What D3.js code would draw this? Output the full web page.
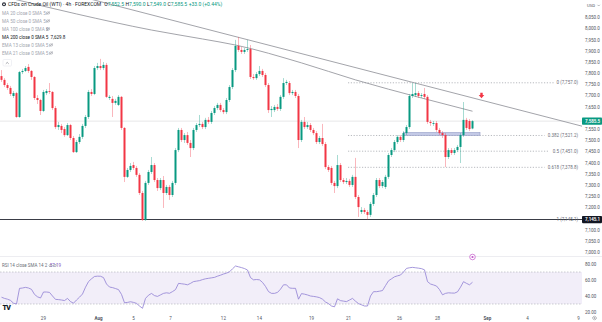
<!DOCTYPE html>
<html><head><meta charset="utf-8">
<script src="https://cdn.jsdelivr.net/npm/d3@7"></script>
<style>body{margin:0;background:#fff}svg{display:block;font-family:Roboto,"Noto Sans",sans-serif}</style>
</head><body><svg id="c" width="602" height="322"></svg>
<script>
// ---- data (4h candles, CFDs on Crude Oil WTI) ----
const opens=[7787,7770,7747,7734,7698,7711,7604,7805,7810,7828,7810,7783,7689,7680,7631,7711,7720,7716,7644,7559,
7564,7550,7523,7568,7510,7447,7492,7515,7564,7604,7716,7707,7823,7832,7823,7837,7689,7685,7667,7658,
7694,7555,7336,7367,7389,7376,7345,7264,7143,7309,7358,7389,7322,7286,7322,7264,7291,7255,7309,7456,
7546,7501,7523,7488,7465,7546,7568,7573,7559,7591,7582,7622,7644,7658,7635,7626,7680,7738,7814,7922,
7904,7895,7904,7908,7783,7778,7796,7810,7792,7747,7635,7635,7649,7640,7694,7756,7756,7711,7716,7698,
7501,7582,7559,7568,7546,7532,7492,7510,7483,7380,7376,7309,7295,7389,7322,7313,7318,7300,7336,7246,
7179,7188,7179,7166,7215,7255,7322,7295,7291,7336,7434,7456,7492,7515,7501,7532,7559,7698,7702,7711,
7698,7707,7694,7582,7573,7577,7546,7532,7523,7425,7456,7443,7456,7470,7523,7591,7586,7552.5];
const highs=[7814,7778,7756,7743,7720,7716,7810,7819,7832,7841,7814,7787,7702,7685,7725,7729,7756,7720,7653,7582,
7573,7559,7577,7573,7519,7501,7528,7573,7613,7725,7729,7832,7846,7864,7850,7846,7702,7698,7685,7702,
7698,7559,7376,7398,7403,7385,7353,7273,7318,7367,7425,7398,7331,7331,7340,7300,7300,7318,7465,7555,
7555,7532,7537,7501,7555,7577,7613,7582,7600,7604,7631,7653,7667,7667,7644,7689,7747,7823,7949,7962,
7917,7913,7949,7926,7796,7805,7832,7819,7801,7756,7653,7658,7662,7702,7778,7770,7765,7725,7725,7707,
7591,7604,7582,7577,7555,7541,7519,7573,7492,7389,7385,7318,7434,7398,7331,7331,7327,7345,7421,7255,
7201,7197,7188,7224,7264,7331,7331,7322,7345,7443,7465,7501,7523,7523,7541,7568,7707,7756,7756,7720,
7711,7734,7702,7591,7586,7586,7555,7541,7532,7465,7465,7465,7479,7532,7671,7600,7595,7590.0];
const lows=[7761,7738,7725,7698,7689,7600,7600,7796,7805,7801,7770,7680,7662,7613,7626,7702,7707,7635,7550,7546,
7532,7515,7519,7501,7443,7443,7483,7506,7555,7595,7698,7702,7814,7814,7814,7689,7680,7604,7658,7653,
7546,7313,7331,7358,7367,7336,7255,7139,7139,7300,7349,7313,7273,7277,7197,7255,7233,7246,7300,7447,
7492,7488,7479,7425,7456,7537,7559,7550,7550,7573,7573,7613,7635,7626,7617,7617,7671,7729,7805,7895,
7886,7886,7895,7774,7770,7770,7787,7783,7738,7622,7604,7626,7631,7631,7685,7747,7702,7702,7689,7465,
7492,7550,7550,7537,7523,7483,7483,7474,7371,7358,7300,7264,7286,7313,7304,7304,7291,7291,7237,7157,
7170,7170,7145.1,7157,7206,7246,7286,7286,7282,7327,7425,7447,7483,7492,7492,7523,7550,7689,7694,7689,
7689,7685,7573,7564,7564,7537,7523,7510,7380,7416,7434,7434,7447,7398,7515,7546,7541,7549.0];
const closes=[7770,7747,7734,7707,7711,7604,7805,7810,7823,7810,7783,7689,7680,7631,7716,7720,7716,7644,7559,7568,
7546,7523,7568,7510,7447,7492,7515,7564,7604,7716,7707,7823,7832,7823,7837,7694,7694,7667,7676,7694,
7555,7336,7367,7385,7376,7345,7264,7143,7309,7358,7389,7322,7286,7322,7264,7291,7255,7309,7456,7546,
7501,7523,7488,7465,7546,7568,7573,7559,7591,7582,7622,7644,7658,7635,7626,7680,7738,7814,7922,7904,
7895,7904,7908,7783,7778,7796,7810,7792,7747,7635,7640,7649,7640,7694,7756,7761,7711,7716,7698,7501,
7582,7559,7568,7546,7532,7492,7510,7483,7380,7367,7309,7295,7389,7322,7313,7318,7300,7336,7246,7201,
7188,7179,7166,7215,7255,7322,7295,7313,7336,7434,7456,7492,7515,7501,7532,7559,7698,7707,7711,7698,
7702,7694,7582,7577,7577,7546,7532,7523,7425,7456,7443,7456,7470,7523,7591,7555,7550,7585.5];
const rsiValues=[38.5,37,36,34.5,31,30,49.5,50,50.8,50,48.3,42,39,37.5,45,45,44.5,40,35.8,35.5,
35,34.3,37,33,31,35,38.5,42.5,51,58,61.5,64.4,64.8,64.7,63,55,51.2,50.5,49.3,48,
42,31.5,32,32.8,32,30.8,27.5,24.6,37,41,43.2,40.5,39.5,41.4,43.3,44,43.4,45.5,48,55.8,
55.3,54.8,54,55.8,58,58.6,59.2,60.5,61.5,62.1,62.7,63.3,64.8,66,67.5,68.6,70.2,74,77.5,76.5,
75.5,74.3,72.5,63,60.2,60.6,60.2,57,52,45.5,43.3,43.3,44.5,48.5,54,54,50,49.6,49.6,36,
43,42.3,41.3,40,39.5,38.9,38,36,32.5,30.5,27.5,26.5,36.5,34.2,33.6,33,35,37,33.5,30.5,
29,27.5,27.5,40,45.4,45.4,46,46.8,53,59,61.5,64,65.2,66.2,70,74.5,75.3,75.8,75.3,74.8,
74.2,72.7,58,55,53.8,52.5,48,41.5,43.3,44,43.7,43.6,45.2,51,57.9,55.8,54,57.19];
const maIdx=[0,25,50,67,78,100,118,140,157];
const maVal=[8145,8065,7993,7953,7926,7846,7770,7689,7629.8];
const trendIdx=[78.5,137];
const trendVal=[7962,7759];
const fibNames=["0","0.382","0.5","0.618","1"];
const fibPrices=[7757.0,7521.2,7451.0,7378.8,7145.1];
const fibStartIdx=115.5;
const zoneIdx=[134,159.5];
const zonePrices=[7534,7522];
const arrowIdx=160, arrowPrice=7694;
const priceTicks=[8050,8000,7950,7900,7850,7800,7750,7700,7650,7550,7500,7450,7400,7350,7300,7250,7200,7100,7050,7000];
const rsiTicks=[80,60,40,20];
const timeLabels=["29","Aug","5","7","12","14","19","21","26","28","Sep","4","9"];
const timeIdx=[13.8,32.2,43.8,56.2,73.8,85.8,103.2,115.5,132.5,145.2,161.8,175.2,192.2];
const lastPrice=7585.5, lowLine=7145.1;

// ---- drawing ----
const svg=d3.select("#c");
const paneR=582, paneB=256;
const UP="#089981", DN="#f23645";
const x=d3.scaleLinear().domain([0,157]).range([1.5,472.5]);
const y=d3.scaleLinear().domain([7000,8050]).range([252,17.3]);
const yr=d3.scaleLinear().domain([20,80]).range([312,264]);

svg.append("rect").attr("width",602).attr("height",322).attr("fill","#fff");
const defs=svg.append("defs");
defs.append("clipPath").attr("id","pc").append("rect").attr("x",0).attr("y",0).attr("width",paneR).attr("height",paneB);
defs.append("clipPath").attr("id","rc").append("rect").attr("x",0).attr("y",paneB).attr("width",paneR).attr("height",313-paneB);

// separators
svg.append("line").attr("x1",0).attr("x2",602).attr("y1",paneB+0.5).attr("y2",paneB+0.5).attr("stroke","#e8e9ee").attr("stroke-width",0.8);

const pane=svg.append("g").attr("clip-path","url(#pc)");
// current price line
pane.append("line").attr("x1",0).attr("x2",paneR).attr("y1",y(lastPrice)).attr("y2",y(lastPrice)).attr("stroke","#d6d6d8").attr("stroke-width",0.6);

// fib levels
fibPrices.forEach((p,k)=>{
  if(k<4) pane.append("line").attr("x1",x(fibStartIdx)).attr("x2",paneR-26-(fibNames[k].length*2.3)).attr("y1",y(p)).attr("y2",y(p))
    .attr("stroke","#8a8d96").attr("stroke-width",0.6).attr("stroke-dasharray","1.2,1.6");
});
// low horizontal line
pane.append("line").attr("x1",0).attr("x2",paneR).attr("y1",y(lowLine)).attr("y2",y(lowLine)).attr("stroke","#3a3d46").attr("stroke-width",1.1);

// zone
pane.append("rect").attr("x",x(zoneIdx[0])).attr("width",x(zoneIdx[1])-x(zoneIdx[0]))
  .attr("y",y(zonePrices[0])).attr("height",y(zonePrices[1])-y(zonePrices[0]))
  .attr("fill","#c3c9e6").attr("stroke","#8f98c4").attr("stroke-width",0.6);

// MA 200
pane.append("path").datum(maIdx.map((d,i)=>[d,maVal[i]]))
  .attr("d",d3.line().x(d=>x(d[0])).y(d=>y(d[1])).curve(d3.curveMonotoneX))
  .attr("fill","none").attr("stroke","#8b8d94").attr("stroke-width",0.8);
// trendline extended
const slope=(trendVal[1]-trendVal[0])/(trendIdx[1]-trendIdx[0]);
const i0=x.invert(0), i1=x.invert(paneR);
pane.append("line").attr("x1",0).attr("x2",paneR)
  .attr("y1",y(trendVal[0]+slope*(i0-trendIdx[0]))).attr("y2",y(trendVal[0]+slope*(i1-trendIdx[0])))
  .attr("stroke","#8b8d94").attr("stroke-width",0.8);

// candles
const idx=d3.range(closes.length);
const cg=pane.append("g");
cg.selectAll("line.w").data(idx).join("line").attr("class","w")
  .attr("x1",i=>x(i)).attr("x2",i=>x(i)).attr("y1",i=>y(highs[i])).attr("y2",i=>y(lows[i]))
  .attr("stroke",i=>closes[i]>=opens[i]?UP:DN).attr("stroke-width",0.6).attr("stroke-opacity",0.6);
cg.selectAll("rect.b").data(idx).join("rect").attr("class","b")
  .attr("x",i=>x(i)-1).attr("width",2)
  .attr("y",i=>y(Math.max(opens[i],closes[i])))
  .attr("height",i=>Math.max(0.7,Math.abs(y(opens[i])-y(closes[i]))))
  .attr("fill",i=>closes[i]>=opens[i]?UP:DN);

// arrow
const ax=x(arrowIdx), ay=y(arrowPrice);
pane.append("path").attr("d",`M${ax-1.2},${ay-4}h2.4v2.2h1.6l-2.8,3.2l-2.8,-3.2h1.6z`).attr("fill",DN);

// fib labels
fibPrices.forEach((p,k)=>{
  svg.append("text").attr("x",paneR-4).attr("y",y(p)).attr("dy","0.35em").attr("text-anchor","end")
    .attr("font-size",4.5).attr("fill","#6b6e78").text(`${fibNames[k]} (${d3.format(",.1f")(p)})`);
});

// price axis
const pa=svg.append("g").attr("transform",`translate(${paneR},0)`)
  .call(d3.axisRight(y).tickValues(priceTicks).tickFormat(d3.format(",.1f")).tickSize(0).tickPadding(3));
pa.select(".domain").remove();
pa.selectAll("text").attr("font-size",4.5).attr("fill","#50535e").attr("font-family","Roboto");
// tags
function tag(p,bg){
  const g=svg.append("g");
  g.append("rect").attr("x",paneR).attr("y",y(p)-3.6).attr("width",20).attr("height",7.2).attr("rx",0.8).attr("fill",bg);
  g.append("text").attr("x",paneR+3).attr("y",y(p)).attr("dy","0.35em").attr("font-size",4.5).attr("fill","#fff").attr("font-weight",600).text(d3.format(",.1f")(p));
}
tag(lastPrice,UP); tag(lowLine,"#131722");
svg.append("text").attr("x",587).attr("y",6.5).attr("font-size",4.3).attr("fill","#50535e").text("USD");
svg.append("path").attr("d","M597.5,4.8l1.2,1.2l1.2,-1.2").attr("fill","none").attr("stroke","#50535e").attr("stroke-width",0.4);

// RSI pane
const rp=svg.append("g").attr("clip-path","url(#rc)");
rp.append("rect").attr("x",0).attr("width",paneR).attr("y",yr(70)).attr("height",yr(30)-yr(70)).attr("fill","#7e57c2").attr("fill-opacity",0.1);
[70,30].forEach(v=>rp.append("line").attr("x1",0).attr("x2",paneR).attr("y1",yr(v)).attr("y2",yr(v))
  .attr("stroke","#9a9ca5").attr("stroke-width",0.5).attr("stroke-dasharray","1.5,1.5"));
rp.append("path").datum(rsiValues).attr("d",d3.line().x((d,i)=>x(i)).y(d=>yr(d)))
  .attr("fill","none").attr("stroke","#8f7fd3").attr("stroke-width",0.8);
const ra=svg.append("g").attr("transform",`translate(${paneR},0)`)
  .call(d3.axisRight(yr).tickValues(rsiTicks).tickFormat(d3.format(".2f")).tickSize(0).tickPadding(3));
ra.select(".domain").remove();
ra.selectAll("text").attr("font-size",4.5).attr("fill","#50535e").attr("font-family","Roboto");

// event marker
svg.append("circle").attr("cx",x(157)).attr("cy",257).attr("r",2.8).attr("fill","#fff").attr("stroke","#c155c9").attr("stroke-width",0.7);
svg.append("circle").attr("cx",x(157)).attr("cy",257).attr("r",1.1).attr("fill","#c155c9");

// time axis
const ta=svg.append("g").attr("transform","translate(0,313)")
  .call(d3.axisBottom(x).tickValues(timeIdx).tickFormat((d,i)=>timeLabels[i]).tickSize(0).tickPadding(4));
ta.select(".domain").remove();
ta.selectAll("text").attr("font-size",4.5).attr("fill","#50535e").attr("font-family","Roboto")
  .attr("font-weight",(d,i)=>isNaN(+timeLabels[i])?700:400);
// gear
svg.append("circle").attr("cx",594.5).attr("cy",318).attr("r",1.8).attr("fill","none").attr("stroke","#50535e").attr("stroke-width",0.6).attr("stroke-dasharray","0.8,0.5");
svg.append("circle").attr("cx",594.5).attr("cy",318).attr("r",0.6).attr("fill","none").attr("stroke","#50535e").attr("stroke-width",0.4);

// TV logo
svg.append("text").attr("x",2.5).attr("y",310).attr("font-size",7).attr("font-weight",900).attr("fill","#131722").attr("letter-spacing",-0.6).text("TV");

// legend
const lg=svg.append("g").attr("font-size",4.6);
lg.append("circle").attr("cx",4).attr("cy",4.3).attr("r",2).attr("fill","#2a2e39");
lg.append("circle").attr("cx",4).attr("cy",4.3).attr("r",0.9).attr("fill","#fff");
const t1=lg.append("text").attr("x",8).attr("y",6).attr("font-size",5);
t1.append("tspan").attr("fill","#131722").text("CFDs on Crude Oil (WTI) · 4h · FOREXCOM");
const ohlc=[["O","7,552.5"],["H","7,590.0"],["L","7,549.0"],["C","7,585.5"]];
ohlc.forEach(([k,v],j)=>{t1.append("tspan").attr("fill","#131722").attr("dx",j===0?3:1.5).text(k);t1.append("tspan").attr("fill",UP).text(v);});
t1.append("tspan").attr("fill",UP).attr("dx",1.5).text("+33.0 (+0.44%)");
const rows=[["MA 20 close 0 SMA 5",""],["MA 50 close 0 SMA 5",""],["MA 100 close 0 SMA 5",""],["MA 200 close 0 SMA 5","7,629.8"],["EMA 13 close 0 SMA 5",""],["EMA 21 close 0 SMA 5",""]];
const rowY=[14.5,22.5,30.5,38.5,46.5,54.5];
rows.forEach((r,k)=>{
  const t=lg.append("text").attr("x",2).attr("y",rowY[k]).attr("fill",r[1]?"#131722":"#a3a6af").text(r[0]);
  if(r[1]) t.append("tspan").attr("dx",2).attr("fill","#131722").text(r[1]);
  else{
    const ex=k>=4?51:48;
    lg.append("ellipse").attr("cx",ex).attr("cy",rowY[k]-1.5).attr("rx",1.8).attr("ry",1.1).attr("fill","none").attr("stroke","#7d808a").attr("stroke-width",0.45);
    lg.append("line").attr("x1",ex-1.6).attr("x2",ex+1.6).attr("y1",rowY[k]+0.1).attr("y2",rowY[k]-3.1).attr("stroke","#7d808a").attr("stroke-width",0.45);
  }
});
lg.append("rect").attr("x",3).attr("y",59.5).attr("width",8.5).attr("height",6.5).attr("rx",1).attr("fill","#fff").attr("stroke","#e0e3eb").attr("stroke-width",0.5);
lg.append("path").attr("d","M5.8,63.8l1.45,-1.4l1.45,1.4").attr("fill","none").attr("stroke","#50535e").attr("stroke-width",0.5);
// RSI legend
const rl=svg.append("text").attr("x",2).attr("y",267).attr("font-size",4.5);
rl.append("tspan").attr("fill","#6b6e78").text("RSI 14 close SMA 14 2");
rl.append("tspan").attr("dx",2.5).attr("fill","#7e57c2").text("57.19");
[50.5,55].forEach(ex=>{
  svg.append("ellipse").attr("cx",ex).attr("cy",265.5).attr("rx",1.6).attr("ry",1).attr("fill","none").attr("stroke","#7d808a").attr("stroke-width",0.4);
  svg.append("line").attr("x1",ex-1.4).attr("x2",ex+1.4).attr("y1",267).attr("y2",264).attr("stroke","#7d808a").attr("stroke-width",0.4);
});
</script></body></html>
